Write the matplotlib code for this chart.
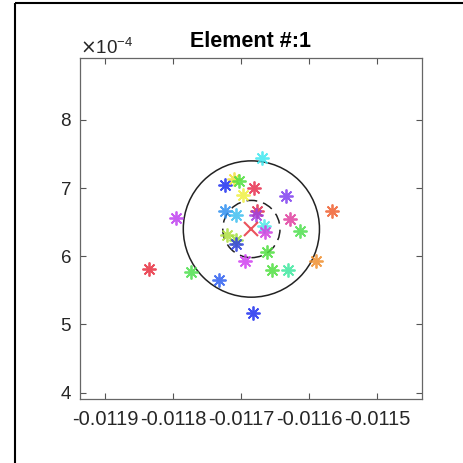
import numpy as np
from matplotlib import pyplot as plt
from matplotlib.patches import Circle
from matplotlib.lines import Line2D
from matplotlib.ticker import ScalarFormatter, FormatStrFormatter

plt.rcParams['font.family'] = ['Liberation Sans', 'DejaVu Sans']

# measured points (x in m, y in units of 1e-4)
x_pts = [-0.011669, -0.011724, -0.011711, -0.011703, -0.011681, -0.011698,
         -0.011634, -0.011566, -0.011795, -0.011724, -0.011708, -0.011677,
         -0.011678, -0.011628, -0.011613, -0.011666, -0.011665, -0.011721,
         -0.011707, -0.011708, -0.011662, -0.011695, -0.011590, -0.011655,
         -0.011631, -0.011836, -0.011774, -0.011732, -0.011683]
y_pts = [7.44, 7.05, 7.13, 7.11, 7.00, 6.90,
         6.88, 6.66, 6.56, 6.67, 6.61, 6.66,
         6.61, 6.54, 6.37, 6.44, 6.35, 6.31,
         6.24, 6.18, 6.06, 5.93, 5.93, 5.80,
         5.80, 5.82, 5.77, 5.65, 5.17]
colors = ['#40e8f0', '#2030f0', '#f0e040', '#50e040', '#e83050', '#f0f040',
          '#8040f0', '#f06030', '#c040f0', '#3090f0', '#40c0f0', '#e03050',
          '#a040e0', '#e040a0', '#50e050', '#50e8e8', '#d040e0', '#b0e040',
          '#a0e040', '#3040e0', '#50e040', '#d040f0', '#f09030', '#50e040',
          '#40e8a0', '#e83040', '#50e050', '#3060f0', '#2030f0']

center_x = -0.011685
center_y = 6.40
outer_r = 1.0
inner_r = 0.42

xticks = [-0.0119, -0.0118, -0.0117, -0.0116, -0.0115]
yticks = [4, 5, 6, 7, 8]

fig = plt.figure(figsize=(4.64, 4.63), dpi=100)
ax = fig.add_axes([0.1724, 0.1376, 0.7364, 0.7365])

ax.add_patch(Circle((center_x, center_y * 1e-4), outer_r * 1e-4, fill=False,
                    color='#222222', lw=1.1))
ax.add_patch(Circle((center_x, center_y * 1e-4), inner_r * 1e-4, fill=False,
                    color='#222222', lw=1.1, linestyle=(0, (7, 4))))

for xp, yp, c in zip(x_pts, y_pts, colors):
    ax.plot(xp, yp * 1e-4, marker=(8, 2, 0), markersize=10, color=c,
            markeredgewidth=1.3, alpha=0.85, linestyle='none')

ax.plot(center_x, center_y * 1e-4, marker='x', markersize=10, color='#e8404a',
        markeredgewidth=1.5, alpha=0.9)

ax.set_xlim(-0.0119367, -0.0114349)
ax.set_ylim(3.902e-4, 8.905e-4)
ax.set_xticks(xticks)
ax.set_yticks([v * 1e-4 for v in yticks])
ax.xaxis.set_major_formatter(FormatStrFormatter('%.4f'))
fmt = ScalarFormatter(useMathText=True)
fmt.set_powerlimits((0, 0))
ax.yaxis.set_major_formatter(fmt)

ax.tick_params(direction='in', length=4, width=0.8, colors='#555555',
               labelcolor='#262626', labelsize=13.5, top=True, right=True)
ax.tick_params(axis='x', pad=8, labelsize=14.5)
ax.tick_params(axis='y', pad=6)
ax.yaxis.get_offset_text().set_fontsize(13.5)
ax.yaxis.get_offset_text().set_color('#262626')
for s in ax.spines.values():
    s.set_color('#666666')
    s.set_linewidth(0.9)

ax.set_title('Element #:1', fontsize=15.5, fontweight='bold', pad=8)

# outer frame lines from the screenshot
fig.add_artist(Line2D([15 / 464, 15 / 464], [-0.01, 1 - 3 / 463], color='black',
                      lw=1.5, solid_capstyle='butt'))
fig.add_artist(Line2D([15 / 464, 1.01], [1 - 3 / 463, 1 - 3 / 463], color='black',
                      lw=1.5, solid_capstyle='butt'))

fig.savefig('out.png', dpi=100)
